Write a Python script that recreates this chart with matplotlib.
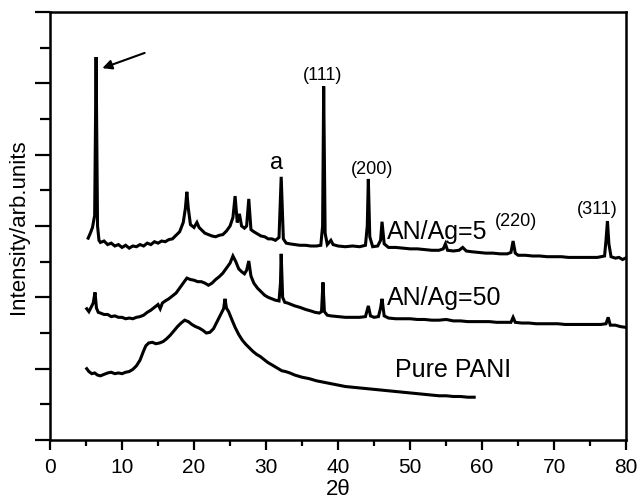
import numpy as np
import matplotlib
matplotlib.use("Agg")
import matplotlib.pyplot as plt
from matplotlib.ticker import MultipleLocator

plt.rcParams['font.family'] = ['Liberation Sans', 'DejaVu Sans']

# AN/Ag=5 trace (2theta, intensity offset)
x_ag5 = [5.3, 5.6, 5.9, 6.2, 6.4, 6.6, 6.8, 7.0, 7.5, 8.0, 8.5, 9.0, 9.5, 10.0, 10.5, 11.0, 11.5,
         12.0, 12.5, 13.0, 13.5, 14.0, 14.5, 15.0, 15.5, 16.0, 16.5, 17.0, 17.5, 18.0, 18.5, 18.8,
         19.0, 19.2, 19.5, 20.0, 20.4, 20.7, 21.0, 21.5, 22.0, 22.5, 23.0, 23.5, 24.0, 24.5, 25.0,
         25.4, 25.7, 26.0, 26.3, 26.6, 27.0, 27.3, 27.6, 27.9, 28.3, 28.8, 29.3, 29.8, 30.3, 30.8,
         31.3, 31.8, 32.1, 32.4, 32.8, 33.3, 34.0, 34.7, 35.5, 36.2, 37.0, 37.6, 37.85, 38.0, 38.2,
         38.5, 39.0, 39.3, 40.0, 41.0, 42.0, 43.0, 43.8, 44.05, 44.2, 44.4, 44.8, 45.5, 45.9, 46.1,
         46.4, 47.0, 48.0, 49.0, 50.0, 51.0, 52.0, 53.0, 54.0, 54.6, 54.9, 55.2, 56.0, 56.8, 57.3,
         57.8, 58.5, 59.5, 60.5, 61.5, 62.5, 63.5, 64.0, 64.3, 64.6, 65.0, 66.0, 67.0, 68.0, 69.0,
         70.0, 71.0, 72.0, 73.0, 74.0, 75.0, 76.0, 77.0, 77.2, 77.4, 77.6, 77.9, 78.5, 79.0, 79.5, 79.9]
y_ag5 = [2.83, 2.90, 2.98, 3.15, 5.37, 3.00, 2.80, 2.77, 2.79, 2.74, 2.76, 2.72, 2.74, 2.70, 2.73, 2.69, 2.72,
         2.71, 2.74, 2.72, 2.76, 2.74, 2.78, 2.76, 2.79, 2.78, 2.81, 2.82, 2.87, 2.92, 3.05, 3.25,
         3.48, 3.25, 3.02, 2.98, 3.05, 2.98, 2.95, 2.90, 2.88, 2.86, 2.85, 2.87, 2.88, 2.93, 3.00,
         3.12, 3.42, 3.05, 3.17, 3.00, 2.97, 3.00, 3.38, 2.95, 2.92, 2.89, 2.86, 2.85, 2.82, 2.82,
         2.80, 2.84, 3.69, 2.82, 2.76, 2.75, 2.74, 2.73, 2.73, 2.72, 2.72, 2.73, 3.00, 4.96, 2.90,
         2.74, 2.80, 2.74, 2.72, 2.71, 2.72, 2.71, 2.73, 3.00, 3.66, 2.85, 2.71, 2.72, 2.80, 3.06,
         2.75, 2.70, 2.70, 2.69, 2.68, 2.68, 2.67, 2.66, 2.66, 2.68, 2.75, 2.66, 2.65, 2.66, 2.70,
         2.65, 2.64, 2.63, 2.62, 2.62, 2.61, 2.61, 2.63, 2.79, 2.62, 2.59, 2.59, 2.58, 2.58, 2.57,
         2.57, 2.57, 2.56, 2.56, 2.56, 2.56, 2.56, 2.58, 2.80, 3.07, 2.75, 2.57, 2.55, 2.56, 2.53, 2.55]

# AN/Ag=50 trace
x_ag50 = [5.1, 5.4, 5.7, 6.0, 6.25, 6.45, 6.7, 7.0, 7.5, 8.0, 8.5, 9.0, 9.5, 10.0, 10.5, 11.0, 11.5,
          12.0, 12.5, 13.0, 13.5, 14.0, 14.5, 15.0, 15.3, 15.6, 16.0, 16.5, 17.0, 17.5, 18.0, 18.5,
          19.0, 19.5, 20.0, 20.5, 21.0, 21.5, 22.0, 22.5, 23.0, 23.5, 24.0, 24.5, 25.0, 25.4, 25.8,
          26.2, 26.6, 27.0, 27.3, 27.6, 27.9, 28.3, 28.8, 29.3, 29.8, 30.3, 30.8, 31.3, 31.8, 32.0,
          32.1, 32.3, 32.6, 33.0, 33.5, 34.0, 34.7, 35.5, 36.2, 36.8, 37.4, 37.7, 37.9, 38.1, 38.5,
          39.0, 40.0, 41.0, 42.0, 43.0, 43.8, 44.2, 44.5, 45.0, 45.6, 45.9, 46.1, 46.4, 47.0, 48.0,
          49.0, 50.0, 51.0, 52.0, 53.0, 54.0, 55.0, 56.0, 57.0, 58.0, 59.0, 60.0, 61.0, 62.0, 63.0,
          64.0, 64.3, 64.6, 65.5, 66.5, 67.5, 68.5, 69.5, 70.5, 71.5, 72.5, 73.5, 74.5, 75.5, 76.5,
          77.2, 77.5, 77.8, 78.5, 79.2, 79.9]
y_ag50 = [1.84, 1.80, 1.86, 1.92, 2.07, 1.85, 1.79, 1.78, 1.76, 1.76, 1.73, 1.74, 1.72, 1.72, 1.70, 1.71, 1.70,
          1.72, 1.73, 1.75, 1.79, 1.82, 1.86, 1.90, 1.84, 1.92, 1.95, 1.98, 2.02, 2.06, 2.13, 2.20,
          2.27, 2.25, 2.24, 2.22, 2.22, 2.20, 2.17, 2.20, 2.25, 2.29, 2.34, 2.41, 2.48, 2.58, 2.50,
          2.40, 2.36, 2.33, 2.38, 2.51, 2.30, 2.20, 2.13, 2.08, 2.03, 2.00, 1.98, 1.96, 1.95, 2.20,
          2.61, 2.00, 1.93, 1.92, 1.90, 1.88, 1.86, 1.83, 1.81, 1.79, 1.78, 1.80, 2.21, 1.80, 1.75,
          1.74, 1.73, 1.72, 1.72, 1.72, 1.73, 1.88, 1.74, 1.72, 1.73, 1.85, 1.98, 1.74, 1.71, 1.70,
          1.70, 1.70, 1.69, 1.69, 1.68, 1.68, 1.69, 1.67, 1.67, 1.66, 1.66, 1.66, 1.66, 1.65, 1.65,
          1.65, 1.72, 1.65, 1.64, 1.64, 1.63, 1.63, 1.63, 1.63, 1.62, 1.62, 1.62, 1.62, 1.62, 1.62,
          1.63, 1.72, 1.61, 1.61, 1.59, 1.58]

# Pure PANI trace
x_pani = [5.1, 5.4, 5.8, 6.2, 6.6, 7.0, 7.5, 8.0, 8.5, 9.0, 9.5, 10.0, 10.5, 11.0, 11.5, 12.0, 12.5,
          13.0, 13.3, 13.7, 14.2, 14.7, 15.2, 15.7, 16.2, 16.7, 17.2, 17.7, 18.2, 18.7, 19.2, 19.7,
          20.2, 20.7, 21.2, 21.7, 22.2, 22.7, 23.2, 23.7, 24.1, 24.3, 24.5, 24.8, 25.2, 25.7, 26.2,
          26.7, 27.2, 27.7, 28.2, 28.7, 29.2, 29.7, 30.2, 30.7, 31.2, 31.7, 32.2, 32.7, 33.3, 34.0,
          35.0, 36.0, 37.0, 38.0, 39.0, 40.0, 41.0, 42.0, 43.0, 44.0, 45.0, 46.0, 47.0, 48.0, 49.0,
          50.0, 51.0, 52.0, 53.0, 54.0, 55.0, 56.0, 57.0, 58.0, 58.9]
y_pani = [1.00, 0.96, 0.93, 0.94, 0.91, 0.90, 0.92, 0.94, 0.95, 0.93, 0.94, 0.93, 0.95, 0.96, 0.99, 1.04, 1.12,
          1.25, 1.32, 1.36, 1.37, 1.35, 1.36, 1.38, 1.42, 1.47, 1.53, 1.59, 1.64, 1.68, 1.66, 1.62,
          1.59, 1.57, 1.54, 1.50, 1.51, 1.56, 1.66, 1.76, 1.84, 1.98, 1.85, 1.80, 1.70, 1.58, 1.48,
          1.40, 1.34, 1.29, 1.24, 1.20, 1.17, 1.13, 1.09, 1.06, 1.03, 1.00, 0.97, 0.96, 0.94, 0.91,
          0.88, 0.86, 0.83, 0.81, 0.79, 0.77, 0.75, 0.74, 0.73, 0.72, 0.71, 0.70, 0.69, 0.68, 0.67,
          0.66, 0.65, 0.64, 0.63, 0.62, 0.62, 0.61, 0.61, 0.60, 0.60]

fig = plt.figure(figsize=(6.37, 5.02), dpi=100)
ax = fig.add_axes([0.0785, 0.1215, 0.9045, 0.8525])

for xs, ys in [(x_ag5, y_ag5), (x_ag50, y_ag50), (x_pani, y_pani)]:
    ax.plot(xs, ys, color="black", lw=2.2, solid_joinstyle="miter")

ax.set_xlim(0, 80); ax.set_ylim(0, 6)
ax.xaxis.set_major_locator(MultipleLocator(10)); ax.xaxis.set_minor_locator(MultipleLocator(5))
ax.yaxis.set_major_locator(MultipleLocator(1)); ax.yaxis.set_minor_locator(MultipleLocator(0.5))
ax.tick_params(axis="x", which="major", direction="out", length=7, width=1.6, labelsize=15, pad=5)
ax.tick_params(axis="x", which="minor", direction="out", length=4, width=1.6)
ax.tick_params(axis="y", which="major", direction="out", length=11, width=1.6, labelleft=False)
ax.tick_params(axis="y", which="minor", direction="out", length=7, width=1.6)
for s in ax.spines.values():
    s.set_linewidth(1.8)

ax.set_xlabel("2θ", fontsize=16, labelpad=2)
ax.set_ylabel("Intensity/arb.units", fontsize=16, labelpad=4)

ax.text(31.5, 3.90, "a", fontsize=17, ha="center", va="center")
ax.text(37.8, 5.13, "(111)", fontsize=13, ha="center", va="center")
ax.text(44.7, 3.80, "(200)", fontsize=13, ha="center", va="center")
ax.text(64.7, 3.08, "(220)", fontsize=13, ha="center", va="center")
ax.text(76.0, 3.24, "(311)", fontsize=13, ha="center", va="center")
ax.text(46.8, 2.93, "AN/Ag=5", fontsize=18, ha="left", va="center")
ax.text(46.8, 2.00, "AN/Ag=50", fontsize=18, ha="left", va="center")
ax.text(47.9, 1.00, "Pure PANI", fontsize=18, ha="left", va="center")
ax.annotate("", xy=(6.9, 5.20), xytext=(13.5, 5.44),
            arrowprops=dict(arrowstyle="-|>", color="black", lw=1.5, mutation_scale=14))

fig.savefig("out.png", dpi=100)
